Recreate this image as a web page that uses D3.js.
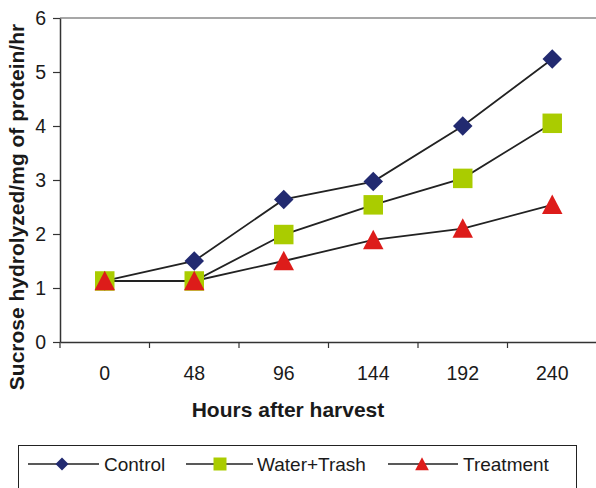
<!DOCTYPE html>
<html>
<head>
<meta charset="utf-8">
<script src="https://cdn.jsdelivr.net/npm/d3@7"></script>
<style>
  html, body { margin: 0; padding: 0; background: #fff; }
  svg { display: block; font-family: "Liberation Sans", Arial, sans-serif; }
</style>
</head>
<body>
<svg id="chart" width="596" height="488"></svg>
<script>
const categories = ["0", "48", "96", "144", "192", "240"];
const control = [1.13, 1.5, 2.64, 2.97, 4.0, 5.24];
const waterTrash = [1.13, 1.13, 1.99, 2.54, 3.03, 4.05];
const treatment = [1.13, 1.13, 1.5, 1.89, 2.1, 2.54];
const yTicks = [0, 1, 2, 3, 4, 5, 6];
const seriesNames = ["Control", "Water+Trash", "Treatment"];

const series = [
  { name: seriesNames[0], values: control, shape: "diamond", color: "#222a70" },
  { name: seriesNames[1], values: waterTrash, shape: "square", color: "#aacc00" },
  { name: seriesNames[2], values: treatment, shape: "triangle", color: "#dd1c1a" }
];

const svg = d3.select("#chart");
const pLeft = 60, pRight = 597, pTop = 18, pBottom = 342;

const x = d3.scaleBand().domain(categories).range([pLeft, pRight]).padding(0);
const y = d3.scaleLinear().domain([0, 6]).range([pBottom, pTop]);

// top border
svg.append("line").attr("x1", pLeft).attr("x2", 596).attr("y1", pTop).attr("y2", pTop)
  .attr("stroke", "#8a8a8a").attr("stroke-width", 1.5);

// y axis
const yAxis = svg.append("g").attr("transform", `translate(${pLeft},0)`)
  .call(d3.axisLeft(y).tickValues(yTicks).tickFormat(d3.format("d")).tickSize(7).tickPadding(7).tickSizeOuter(0));
yAxis.select(".domain").attr("stroke", "#333").attr("stroke-width", 1.5);
yAxis.selectAll(".tick line").attr("stroke", "#333").attr("stroke-width", 1.2);
yAxis.selectAll(".tick text").attr("font-size", "19.5px").attr("fill", "#1a1a1a")
  .attr("font-family", "Liberation Sans, Arial, sans-serif");

// x axis
const xAxis = svg.append("g").attr("transform", `translate(0,${pBottom})`)
  .call(d3.axisBottom(x).tickSize(0).tickPadding(24).tickSizeOuter(0));
xAxis.select(".domain").attr("stroke", "#333").attr("stroke-width", 1.5);
xAxis.selectAll(".tick text").attr("font-size", "19.5px").attr("fill", "#1a1a1a")
  .attr("font-family", "Liberation Sans, Arial, sans-serif");
// tick marks at band boundaries
const bounds = categories.map(c => x(c)).concat([x(categories[categories.length - 1]) + x.bandwidth()]);
svg.append("g").selectAll("line").data(bounds).join("line")
  .attr("x1", d => d).attr("x2", d => d)
  .attr("y1", pBottom).attr("y2", pBottom + 6)
  .attr("stroke", "#333").attr("stroke-width", 1.2);

// axis titles
svg.append("text")
  .attr("transform", `translate(24,207) rotate(-90)`)
  .attr("text-anchor", "middle")
  .attr("font-size", "21px").attr("font-weight", "bold").attr("fill", "#1a1a1a")
  .text("Sucrose hydrolyzed/mg of protein/hr");
svg.append("text")
  .attr("x", 288).attr("y", 417)
  .attr("text-anchor", "middle")
  .attr("font-size", "21px").attr("font-weight", "bold").attr("fill", "#1a1a1a")
  .text("Hours after harvest");

const cx = c => x(c) + x.bandwidth() / 2;

function shapePath(shape, s) {
  const h = s / 2;
  if (shape === "diamond") return `M0,${-h}L${h},0L0,${h}L${-h},0Z`;
  if (shape === "square") return `M${-h},${-h}H${h}V${h}H${-h}Z`;
  return `M0,${-h * 1.05}L${h * 1.05},${h * 0.95}L${-h * 1.05},${h * 0.95}Z`;
}

const line = d3.line().x((d, i) => cx(categories[i])).y(d => y(d));

// lines
series.forEach(s => {
  svg.append("path").attr("d", line(s.values))
    .attr("fill", "none").attr("stroke", "#222").attr("stroke-width", 1.8);
});
// markers
series.forEach(s => {
  svg.append("g").selectAll("path").data(s.values).join("path")
    .attr("transform", (d, i) => `translate(${cx(categories[i])},${y(d)})`)
    .attr("d", shapePath(s.shape, 19.5))
    .attr("fill", s.color);
});

// legend
svg.append("rect").attr("x", 18.5).attr("y", 445.5).attr("width", 558).attr("height", 60)
  .attr("fill", "none").attr("stroke", "#222").attr("stroke-width", 1);
const legendItems = [
  { x1: 28, x2: 99, mx: 62, tx: 104 },
  { x1: 186, x2: 253, mx: 220, tx: 257 },
  { x1: 388, x2: 458, mx: 422, tx: 463 }
];
series.forEach((s, i) => {
  const L = legendItems[i];
  const g = svg.append("g");
  g.append("line").attr("x1", L.x1).attr("x2", L.x2).attr("y1", 464).attr("y2", 464)
    .attr("stroke", "#222").attr("stroke-width", 1.5);
  g.append("path").attr("transform", `translate(${L.mx},464)`)
    .attr("d", shapePath(s.shape, 13)).attr("fill", s.color);
  g.append("text").attr("x", L.tx).attr("y", 471)
    .attr("font-size", "19px").attr("fill", "#1a1a1a").text(s.name);
});
</script>
</body>
</html>
